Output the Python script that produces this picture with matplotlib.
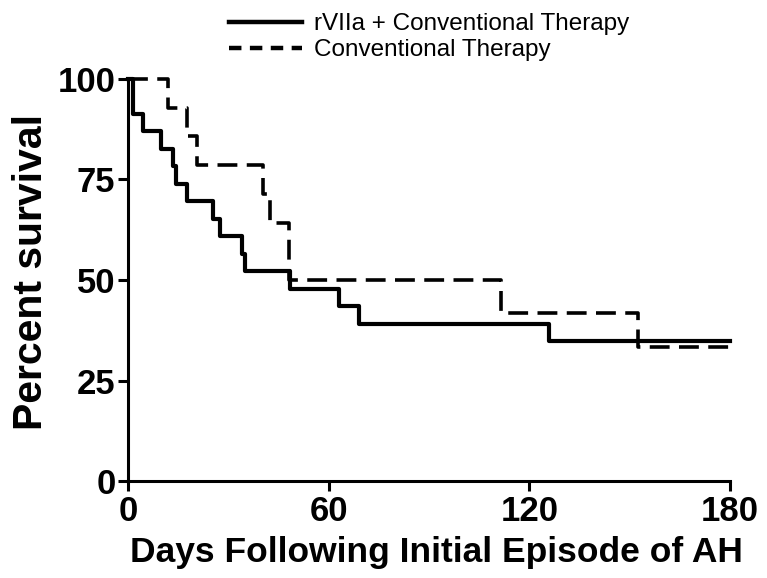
import matplotlib
matplotlib.use("Agg")
import matplotlib.pyplot as plt
from matplotlib.lines import Line2D

# Data
rviia_days = [0, 1.5, 4.5, 10, 13.5, 14.5, 17.5, 25.5, 27.5, 34, 35, 48.5, 63, 69, 126, 180]
rviia_surv = [100, 91.3, 87.0, 82.6, 78.3, 73.9, 69.6, 65.2, 60.9, 56.5, 52.2, 47.8, 43.5, 39.1, 34.8, 34.8]
conv_days = [0, 12, 17.5, 20.5, 40.5, 42.5, 48, 111.5, 152.5, 180]
conv_surv = [100, 92.9, 85.7, 78.6, 71.4, 64.3, 50.0, 41.7, 33.3, 33.3]
x_ticks = [0, 60, 120, 180]
y_ticks = [0, 25, 50, 75, 100]
labels = ["rVIIa + Conventional Therapy", "Conventional Therapy"]

plt.rcParams['font.family'] = ['Liberation Sans', 'DejaVu Sans']

fig = plt.figure(figsize=(7.67, 5.78), dpi=100)
ax = fig.add_axes([128/767, 1-481/578, (730-128)/767, (481-79)/578])

ax.step(rviia_days, rviia_surv, where='post', color='black', lw=3.0, clip_on=False, zorder=3)
ax.step(conv_days, conv_surv, where='post', color='black', lw=2.6, clip_on=False,
        dashes=(5.5, 2.6), zorder=3)

ax.set_xlim(0, 180)
ax.set_ylim(0, 100)
ax.set_xticks(x_ticks)
ax.set_yticks(y_ticks)
for s in ['top', 'right']:
    ax.spines[s].set_visible(False)
for s in ['left', 'bottom']:
    ax.spines[s].set_linewidth(2.2)
ax.tick_params(axis='both', direction='out', length=7, width=2.2, labelsize=25)
ax.tick_params(axis='x', pad=3)
ax.tick_params(axis='y', pad=2)
for lab in ax.get_xticklabels() + ax.get_yticklabels():
    lab.set_fontweight('bold')

ax.set_xlabel("Days Following Initial Episode of AH", fontsize=25.5, fontweight='bold')
ax.xaxis.set_label_coords((436 - 128) / 602, -(536 - 481) / 402)
ax.set_ylabel("Percent survival", fontsize=29.5, fontweight='bold')
ax.yaxis.set_label_coords(-(128 - 50) / 602, (481 - 272) / 402)

handles = [Line2D([], [], color='black', lw=3.2),
           Line2D([], [], color='black', lw=3.2, dashes=(2.8, 1.9))]
fig.legend(handles, labels, loc='upper left', bbox_to_anchor=(216/767, 1.0),
           frameon=False, fontsize=17.5, handlelength=3.0, handletextpad=0.5,
           labelspacing=0.15, borderaxespad=0.15)

fig.savefig("out.png", dpi=100)
